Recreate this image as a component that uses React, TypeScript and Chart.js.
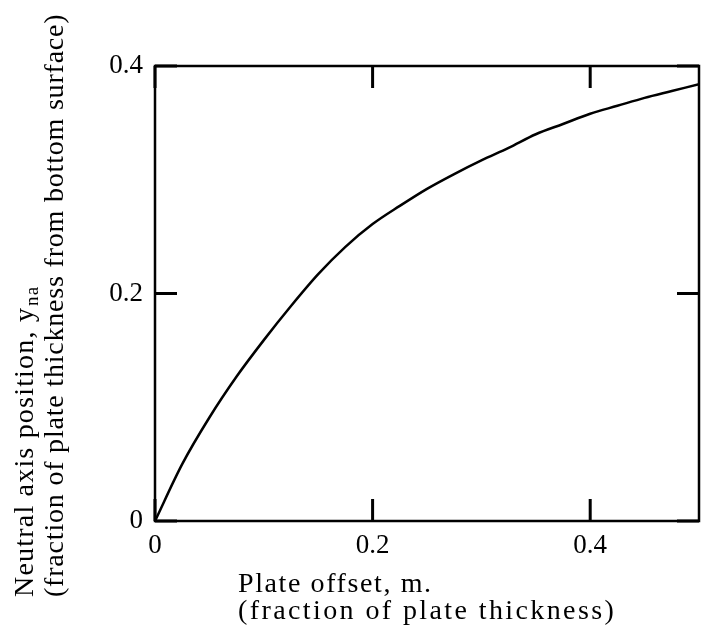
import React, { useEffect, useRef } from "react";
import { Chart, registerables } from "chart.js";

Chart.register(...registerables);

// Plate offset m (fraction of plate thickness)
const offsets = [0, 0.025, 0.05, 0.075, 0.1, 0.125, 0.15, 0.175, 0.2, 0.225, 0.25, 0.275, 0.3, 0.325, 0.35, 0.375, 0.4, 0.425, 0.45, 0.475, 0.5];
// Neutral axis position y_na (fraction of plate thickness from bottom surface)
const neutralAxis = [0, 0.05, 0.091, 0.127, 0.159, 0.189, 0.217, 0.241, 0.261, 0.277, 0.292, 0.305, 0.317, 0.328, 0.34, 0.349, 0.358, 0.365, 0.372, 0.378, 0.384];

const xTicks = [0, 0.2, 0.4];
const yTicks = [0, 0.2, 0.4];
const xTitle = ["Plate offset, m.", "(fraction of plate thickness)"];
const yTitleMain = "Neutral axis position, y";
const yTitleSub = "na";
const yTitle2 = "(fraction of plate thickness from bottom surface)";

const FONT = "'Liberation Serif', 'Times New Roman', serif";

const framePlugin = {
  id: "frame",
  afterDraw(chart: any) {
    const { ctx, chartArea, scales } = chart;
    const { left, right, top, bottom } = chartArea;
    ctx.save();
    ctx.strokeStyle = "#000";
    ctx.lineWidth = 2.5;
    ctx.strokeRect(left, top, right - left, bottom - top);
    ctx.lineWidth = 3;
    const tl = 22;
    ctx.beginPath();
    xTicks.forEach((v) => {
      const px = scales.x.getPixelForValue(v);
      ctx.moveTo(px, bottom);
      ctx.lineTo(px, bottom - tl);
      ctx.moveTo(px, top);
      ctx.lineTo(px, top + tl);
    });
    yTicks.forEach((v) => {
      const py = scales.y.getPixelForValue(v);
      ctx.moveTo(left, py);
      ctx.lineTo(left + tl, py);
      ctx.moveTo(right, py);
      ctx.lineTo(right - tl, py);
    });
    ctx.stroke();

    // titles
    ctx.fillStyle = "#000";
    ctx.textAlign = "left";
    ctx.textBaseline = "alphabetic";
    ctx.font = `28px ${FONT}`;
    (ctx as any).letterSpacing = "1.6px";
    ctx.fillText(xTitle[0], 238, 592);
    (ctx as any).letterSpacing = "2.4px";
    ctx.fillText(xTitle[1], 238, 619);

    ctx.translate(0, 597);
    ctx.rotate(-Math.PI / 2);
    (ctx as any).letterSpacing = "1.2px";
    ctx.font = `28px ${FONT}`;
    ctx.fillText(yTitleMain, 0, 33);
    const w = ctx.measureText(yTitleMain).width;
    ctx.font = `19px ${FONT}`;
    ctx.fillText(yTitleSub, w + 1, 38);
    ctx.font = `28px ${FONT}`;
    (ctx as any).letterSpacing = "0.8px";
    ctx.fillText(yTitle2, 0, 63);
    ctx.restore();
  },
};

export default function App() {
  const ref = useRef<HTMLCanvasElement | null>(null);
  useEffect(() => {
    if (!ref.current) return;
    const chart = new Chart(ref.current, {
      type: "line",
      data: {
        datasets: [
          {
            data: offsets.map((x, i) => ({ x, y: neutralAxis[i] })),
            borderColor: "#000",
            borderWidth: 2.5,
            pointRadius: 0,
            cubicInterpolationMode: "monotone",
            fill: false,
          },
        ],
      },
      options: {
        animation: false,
        responsive: false,
        maintainAspectRatio: false,
        layout: { padding: { top: 66, right: 2, left: 0, bottom: 0 } },
        plugins: { legend: { display: false }, tooltip: { enabled: false } },
        scales: {
          x: {
            type: "linear",
            min: 0,
            max: 0.5,
            afterBuildTicks: (s: any) => {
              s.ticks = xTicks.map((v) => ({ value: v }));
            },
            afterFit: (s: any) => {
              s.height = 119;
            },
            grid: { display: false, drawTicks: false },
            border: { display: false },
            ticks: {
              padding: 9,
              color: "#000",
              font: { family: FONT, size: 27 },
              maxRotation: 0,
              callback: (v: any) => String(v),
            },
          },
          y: {
            type: "linear",
            min: 0,
            max: 0.4,
            afterBuildTicks: (s: any) => {
              s.ticks = yTicks.map((v) => ({ value: v }));
            },
            afterFit: (s: any) => {
              s.width = 155;
            },
            grid: { display: false, drawTicks: false },
            border: { display: false },
            ticks: {
              padding: 12,
              color: "#000",
              font: { family: FONT, size: 27 },
              callback: (v: any) => String(v),
            },
          },
        },
      },
      plugins: [framePlugin],
    });
    return () => chart.destroy();
  }, []);
  return (
    <div style={{ position: "fixed", left: 0, top: 0, width: 701, height: 640, background: "#fff" }}>
      <canvas ref={ref} width={701} height={640} style={{ display: "block" }} />
    </div>
  );
}
